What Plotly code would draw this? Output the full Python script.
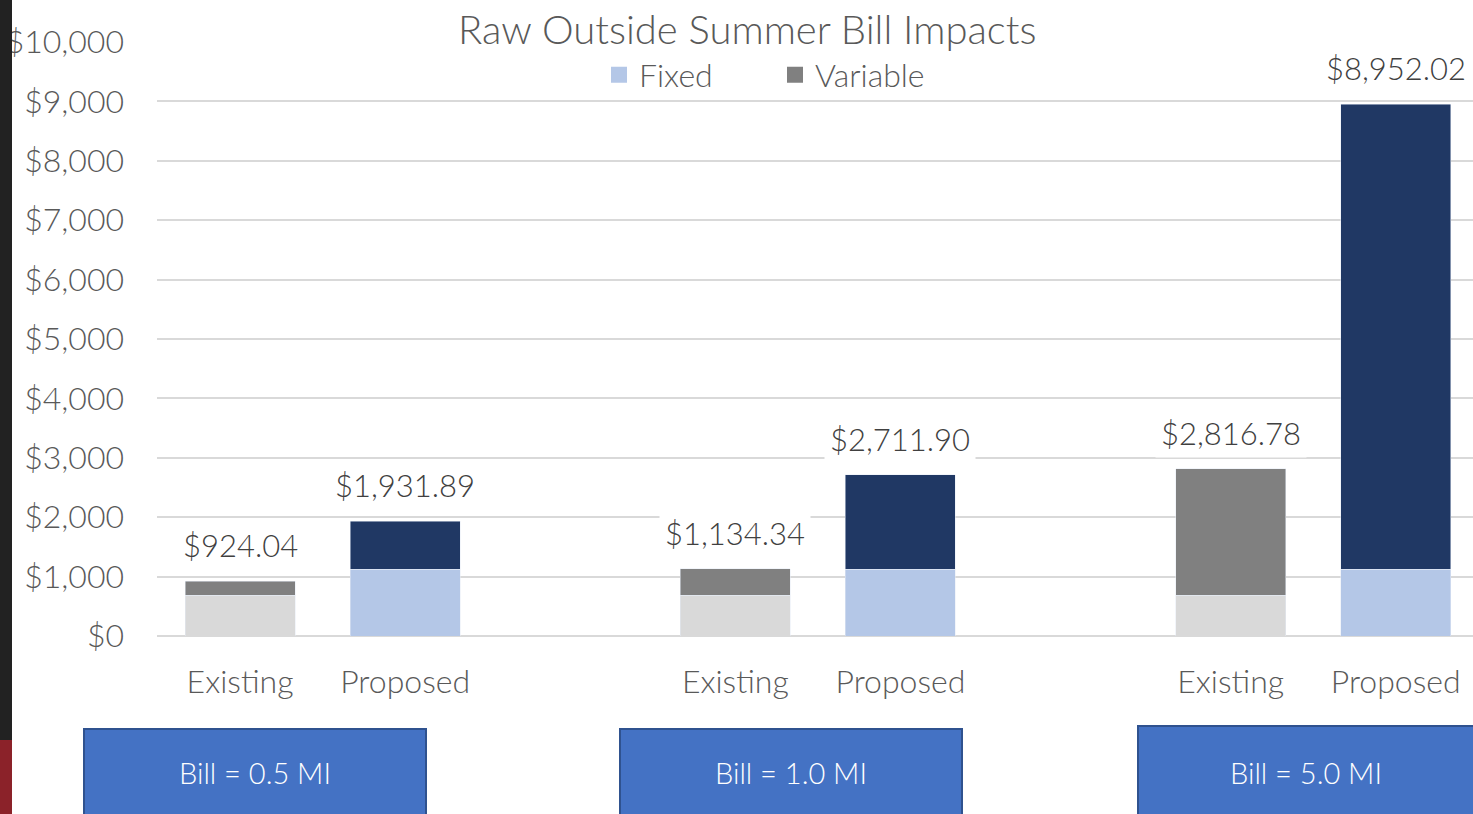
import plotly.graph_objects as go

# ---- data ----
groups = ["Bill = 0.5 MI", "Bill = 1.0 MI", "Bill = 5.0 MI"]
bar_names = ["Existing", "Proposed"]
existing_fixed = [690, 690, 690]
existing_total = [924.04, 1134.34, 2816.78]
proposed_fixed = [1128, 1128, 1128]
proposed_total = [1931.89, 2711.90, 8952.02]
y_ticks = [0, 1000, 2000, 3000, 4000, 5000, 6000, 7000, 8000, 9000, 10000]

existing_var = [t - f for t, f in zip(existing_total, existing_fixed)]
proposed_var = [t - f for t, f in zip(proposed_total, proposed_fixed)]

# slot positions: Existing, Proposed, gap per group
slots_per_group = 3
x_exist = [g * slots_per_group for g in range(len(groups))]
x_prop = [g * slots_per_group + 1 for g in range(len(groups))]

C_EF = "#d9d9d9"
C_EV = "#808080"
C_PF = "#b4c7e7"
C_PV = "#203864"
FONT = "Lato"
WT = 300
TXT = "#595959"

W, H = 1473, 814
L, R, T, B = 157, 0, 42, 178
PW, PH = W - L - R, H - T - B

def px(xp):
    return (xp - L) / PW

def py(yp):
    return (H - B - yp) / PH

fig = go.Figure()
bw = 0.666
fig.add_bar(x=x_exist, y=existing_fixed, marker_color=C_EF, width=bw, showlegend=False, name="Fixed")
fig.add_bar(x=x_prop, y=proposed_fixed, marker_color=C_PF, width=bw, showlegend=False, name="Fixed")
fig.add_bar(x=x_exist, y=existing_var, marker_color=C_EV, width=bw, showlegend=False, name="Variable")
fig.add_bar(x=x_prop, y=proposed_var, marker_color=C_PV, width=bw, showlegend=False, name="Variable")

# legend proxies
fig.add_scatter(x=[None], y=[None], mode="markers", name="Fixed",
                marker=dict(symbol="square", size=19, color=C_PF))
fig.add_scatter(x=[None], y=[None], mode="markers", name="Variable",
                marker=dict(symbol="square", size=19, color=C_EV))

annotations = []
for xs, totals in ((x_exist, existing_total), (x_prop, proposed_total)):
    for xv, t in zip(xs, totals):
        annotations.append(dict(x=xv, y=t, xref="x", yref="y", text=f"${t:,.2f}",
                                showarrow=False, yanchor="middle", yshift=36,
                                bgcolor="white", borderpad=5,
                                font=dict(family=FONT, size=31, color="#404040", weight=WT)))

annotations.append(dict(x=px(747), y=py(29), xref="paper", yref="paper",
                        text="Raw Outside Summer Bill Impacts", showarrow=False,
                        xanchor="center", yanchor="middle", bgcolor="white", borderpad=8,
                        font=dict(family=FONT, size=40, color=TXT, weight=WT)))

shapes = [
    dict(type="rect", xref="paper", yref="paper", x0=px(-2), x1=px(12), y0=py(740), y1=py(-5),
         fillcolor="#222222", line=dict(width=0), layer="above"),
    dict(type="rect", xref="paper", yref="paper", x0=px(-2), x1=px(12), y0=py(820), y1=py(740),
         fillcolor="#8b2229", line=dict(width=0), layer="above"),
]
boxes = [(84, 426, 729), (620, 962, 729), (1138, 1478, 726)]
for (x0, x1, y0), label in zip(boxes, groups):
    shapes.append(dict(type="rect", xref="paper", yref="paper", x0=px(x0), x1=px(x1),
                       y0=py(830), y1=py(y0), fillcolor="#4472c4",
                       line=dict(color="#2f528f", width=2), layer="above"))
    annotations.append(dict(x=px((x0 + min(x1, 1473)) / 2), y=py(772), xref="paper", yref="paper",
                            text=label, showarrow=False, xanchor="center", yanchor="middle",
                            font=dict(family=FONT, size=29, color="white", weight=WT)))

tickvals = sorted(x_exist + x_prop)
ticktext = [bar_names[v % slots_per_group] for v in tickvals]
y_ticktext = [f"${v:,}" for v in y_ticks]

fig.update_layout(
    width=W, height=H,
    margin=dict(l=L, r=R, t=T, b=B, pad=0),
    barmode="stack",
    plot_bgcolor="white", paper_bgcolor="white",
    font=dict(family=FONT, size=31, color=TXT, weight=WT),
    annotations=annotations, shapes=shapes,
    legend=dict(orientation="h", x=px(599), y=py(75), xanchor="left", yanchor="middle",
                bgcolor="rgba(0,0,0,0)", font=dict(family=FONT, size=32, color=TXT, weight=WT),
                entrywidth=131, entrywidthmode="pixels", itemsizing="trace",
                traceorder="normal"),
    xaxis=dict(range=[-0.503, 7.468], tickvals=tickvals,
               ticktext=ticktext, showgrid=False, zeroline=False, showline=False,
               ticks="outside", ticklen=18, tickcolor="rgba(0,0,0,0)",
               tickfont=dict(family=FONT, size=32, color=TXT, weight=WT), fixedrange=True),
    yaxis=dict(range=[0, 10000], tickvals=y_ticks, ticktext=y_ticktext,
               showgrid=True, gridcolor="#d9d9d9", gridwidth=1.5,
               zeroline=True, zerolinecolor="#d9d9d9", zerolinewidth=2,
               showline=False, ticklabelstandoff=32,
               tickfont=dict(family=FONT, size=32, color=TXT, weight=WT), fixedrange=True),
)

fig.write_html("out.html", config={"displayModeBar": False},
               post_script="document.body.style.margin='0';document.body.style.overflow='hidden';")
